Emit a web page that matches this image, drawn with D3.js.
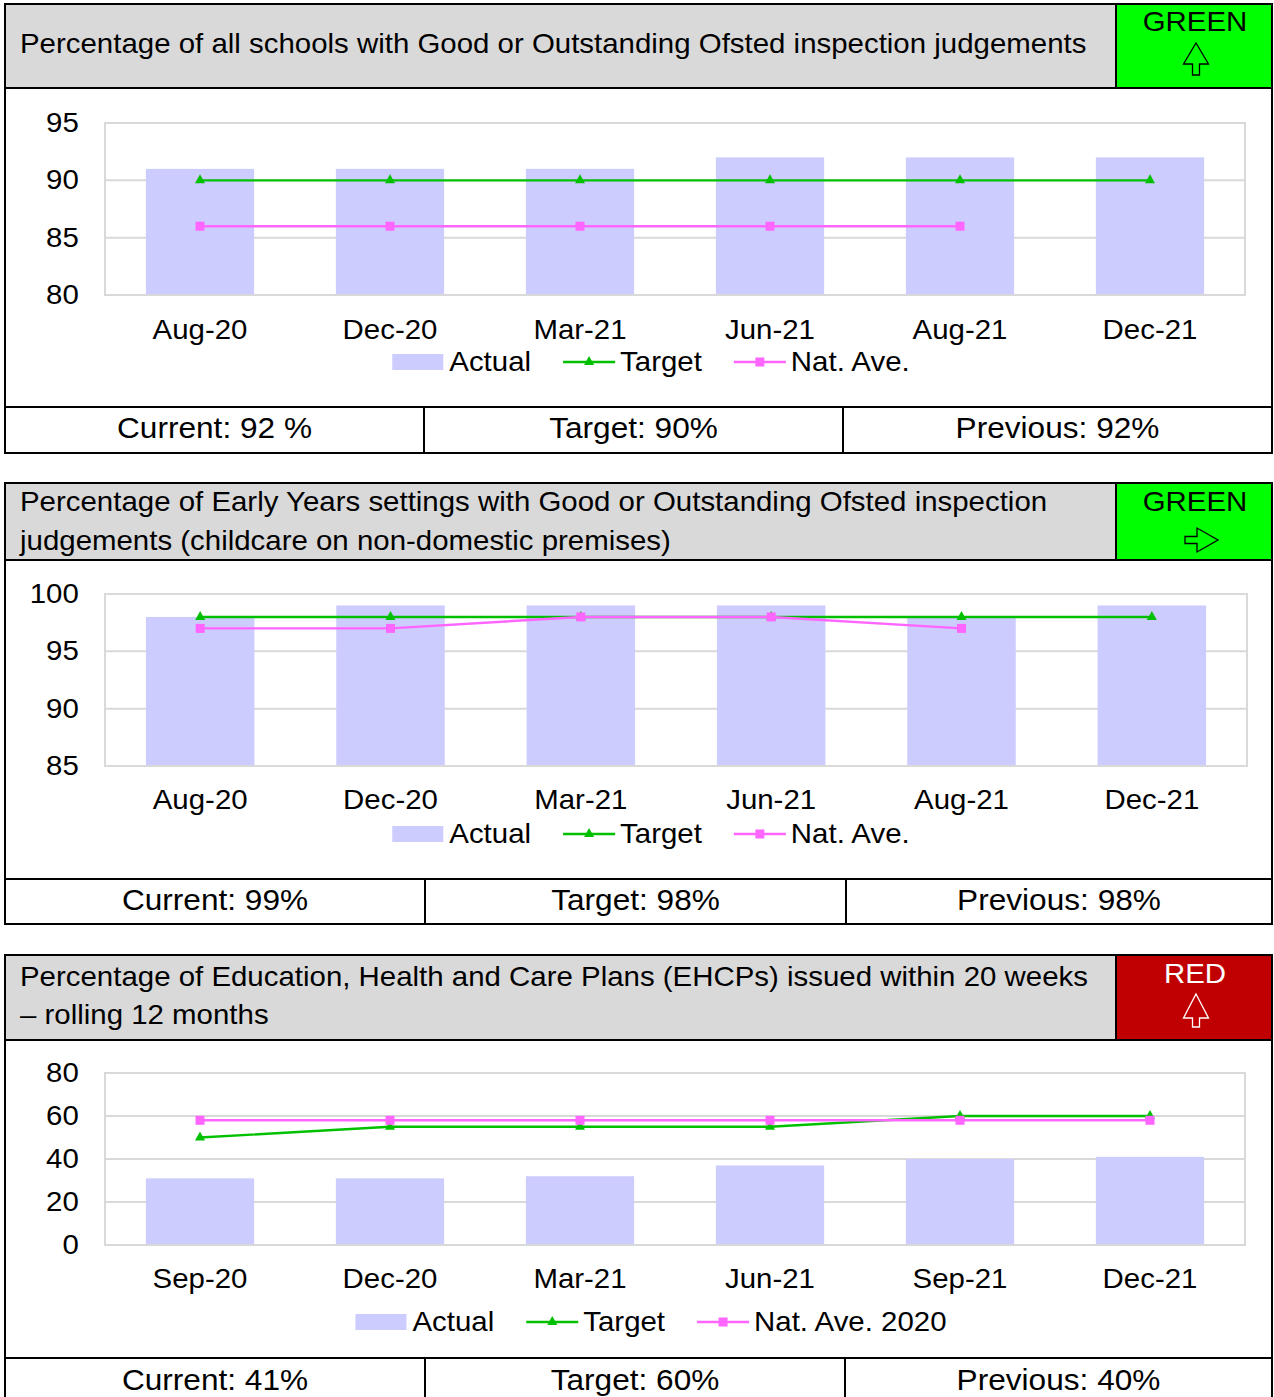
<!DOCTYPE html>
<html>
<head>
<meta charset="utf-8">
<script src="https://cdn.jsdelivr.net/npm/d3@7"></script>
<style>
  body { margin: 0; background: #fff; }
  svg { display: block; }
</style>
</head>
<body>
<script>
// ---- data ----
var cats1 = ["Aug-20", "Dec-20", "Mar-21", "Jun-21", "Aug-21", "Dec-21"];
var actual1 = [91, 91, 91, 92, 92, 92];
var target1 = [90, 90, 90, 90, 90, 90];
var natAve1 = [86, 86, 86, 86, 86];
var yTicks1 = [80, 85, 90, 95];

var cats2 = ["Aug-20", "Dec-20", "Mar-21", "Jun-21", "Aug-21", "Dec-21"];
var actual2 = [98, 99, 99, 99, 98, 99];
var target2 = [98, 98, 98, 98, 98, 98];
var natAve2 = [97, 97, 98, 98, 97];
var yTicks2 = [85, 90, 95, 100];

var cats3 = ["Sep-20", "Dec-20", "Mar-21", "Jun-21", "Sep-21", "Dec-21"];
var actual3 = [31, 31, 32, 37, 40, 41];
var target3 = [50, 55, 55, 55, 60, 60];
var natAve3 = [58, 58, 58, 58, 58, 58];
var yTicks3 = [0, 20, 40, 60, 80];

var title1 = ["Percentage of all schools with Good or Outstanding Ofsted inspection judgements"];
var title2 = ["Percentage of Early Years settings with Good or Outstanding Ofsted inspection",
              "judgements (childcare on non-domestic premises)"];
var title3 = ["Percentage of Education, Health and Care Plans (EHCPs) issued within 20 weeks",
              "\u2013 rolling 12 months"];
var footer1 = ["Current: 92 %", "Target: 90%", "Previous: 92%"];
var footer2 = ["Current: 99%", "Target: 98%", "Previous: 98%"];
var footer3 = ["Current: 41%", "Target: 60%", "Previous: 40%"];
var legend1 = ["Actual", "Target", "Nat. Ave."];
var legend2 = ["Actual", "Target", "Nat. Ave."];
var legend3 = ["Actual", "Target", "Nat. Ave. 2020"];

// ---- look ----
var W = 1274, H = 1397;
var SX = 1.09;   // source text is a bit wide
var FONT = "'Liberation Sans', Arial, sans-serif";
var FS = 27;
var barColor = "#ccccff", targetColor = "#00c000", natColor = "#ff66ff", gridColor = "#d9d9d9";

var panels = [
  {top: 4, head: 88, chartBottom: 407, bottom: 453, title: title1, titleY: [44],
   status: "GREEN", statusFill: "#00ff00", statusInk: "#000", statusY: 22, arrow: "up", arrowTip: 43, arrowBase: 64, arrowEnd: 75,
   cats: cats1, actual: actual1, target: target1, nat: natAve1, ticks: yTicks1, domain: [80, 95],
   plot: [105, 1245, 123, 295], labelY: 330, legendY: 362, legend: legend1,
   footer: footer1, divs: [424, 843], footY: 428},
  {top: 483, head: 560, chartBottom: 879, bottom: 924, title: title2, titleY: [502, 541],
   status: "GREEN", statusFill: "#00ff00", statusInk: "#000", statusY: 502, arrow: "right", arrowTip: 540,
   cats: cats2, actual: actual2, target: target2, nat: natAve2, ticks: yTicks2, domain: [85, 100],
   plot: [105, 1247, 594, 766], labelY: 800, legendY: 834, legend: legend2,
   footer: footer2, divs: [425, 846], footY: 900},
  {top: 955, head: 1040, chartBottom: 1358, bottom: 1404, title: title3, titleY: [977, 1015],
   status: "RED", statusFill: "#c00000", statusInk: "#fff", statusY: 974, arrow: "up", arrowTip: 994, arrowBase: 1018, arrowEnd: 1027,
   cats: cats3, actual: actual3, target: target3, nat: natAve3, ticks: yTicks3, domain: [0, 80],
   plot: [105, 1245, 1073, 1245], labelY: 1279, legendY: 1322, legend: legend3,
   footer: footer3, divs: [425, 845], footY: 1380}
];

var svg = d3.select("body").append("svg")
  .attr("width", W)
  .attr("height", H)
  .style("font-family", FONT);

function addText(g, x, y, str, size, anchor, fill) {
  return g.append("text")
    .attr("transform", `translate(${x},${y}) scale(${SX},1)`)
    .attr("dy", "0.35em")
    .attr("text-anchor", anchor)
    .attr("font-size", size)
    .attr("fill", fill || "#000")
    .text(str);
}

function drawPanel(p) {
  var g = svg.append("g");
  var L = 5, R = 1272, SB = 1116;

  // header
  g.append("rect").attr("x", L).attr("y", p.top).attr("width", SB - L).attr("height", p.head - p.top).attr("fill", "#d9d9d9");
  g.append("rect").attr("x", SB).attr("y", p.top).attr("width", R - SB).attr("height", p.head - p.top).attr("fill", p.statusFill);
  p.title.forEach(function(t, i) {
    addText(g, 20, p.titleY[i], t, FS, "start");
  });
  addText(g, 1195, p.statusY, p.status, 27, "middle", p.statusInk);

  var pts;
  if (p.arrow == "up") {
    var c = 1196, t = p.arrowTip, b = p.arrowBase, e = p.arrowEnd;
    pts = [[c, t], [c + 12.5, b], [c + 3.5, b], [c + 3.5, e], [c - 3.5, e], [c - 3.5, b], [c - 12.5, b]];
  } else {
    var tx = 1218, ty = p.arrowTip;
    pts = [[tx, ty], [tx - 21, ty - 12], [tx - 21, ty - 3.5], [tx - 33, ty - 3.5], [tx - 33, ty + 3.5], [tx - 21, ty + 3.5], [tx - 21, ty + 12]];
  }
  g.append("path")
    .attr("d", d3.line()(pts) + "Z")
    .attr("fill", "none")
    .attr("stroke", p.statusInk)
    .attr("stroke-width", 1.3)
    .attr("stroke-linejoin", "miter");

  // chart
  var x = d3.scaleBand().domain(p.cats).range([p.plot[0], p.plot[1]]).paddingInner(0.43).paddingOuter(0.215);
  var y = d3.scaleLinear().domain(p.domain).range([p.plot[3], p.plot[2]]);
  var cx = function(d) { return x(d) + x.bandwidth() / 2; };

  g.append("g").selectAll("line")
    .data(p.ticks)
    .enter().append("line")
    .attr("x1", p.plot[0]).attr("x2", p.plot[1])
    .attr("y1", function(d) { return y(d); }).attr("y2", function(d) { return y(d); })
    .attr("stroke", gridColor).attr("stroke-width", 2);

  g.append("g").selectAll("rect")
    .data(p.actual)
    .enter().append("rect")
    .attr("x", function(d, i) { return x(p.cats[i]); })
    .attr("y", function(d) { return y(d); })
    .attr("width", x.bandwidth())
    .attr("height", function(d) { return y(p.domain[0]) - y(d); })
    .attr("fill", barColor);

  var line = d3.line()
    .x(function(d, i) { return cx(p.cats[i]); })
    .y(function(d) { return y(d); });

  g.append("path").datum(p.target)
    .attr("d", line).attr("fill", "none").attr("stroke", targetColor).attr("stroke-width", 2.4);
  g.append("g").selectAll("path")
    .data(p.target)
    .enter().append("path")
    .attr("transform", function(d, i) { return `translate(${cx(p.cats[i])},${y(d)})`; })
    .attr("d", "M0,-6L5,3L-5,3Z")
    .attr("fill", targetColor);

  g.append("path").datum(p.nat)
    .attr("d", line).attr("fill", "none").attr("stroke", natColor).attr("stroke-width", 2.4);
  g.append("g").selectAll("rect")
    .data(p.nat)
    .enter().append("rect")
    .attr("x", function(d, i) { return cx(p.cats[i]) - 4.5; })
    .attr("y", function(d) { return y(d) - 4.5; })
    .attr("width", 9).attr("height", 9)
    .attr("fill", natColor);

  g.append("rect")
    .attr("x", p.plot[0]).attr("y", p.plot[2])
    .attr("width", p.plot[1] - p.plot[0]).attr("height", p.plot[3] - p.plot[2])
    .attr("fill", "none").attr("stroke", gridColor).attr("stroke-width", 2);

  var yAxis = g.append("g")
    .attr("transform", `translate(${p.plot[0]},0)`)
    .call(d3.axisLeft(y).tickValues(p.ticks).tickSize(0).tickPadding(24));
  yAxis.select(".domain").remove();
  yAxis.selectAll("text")
    .attr("transform", `scale(${SX},1)`)
    .attr("font-family", FONT).attr("font-size", FS).attr("fill", "#000");

  var xAxis = g.append("g")
    .attr("transform", `translate(0,${p.labelY})`)
    .call(d3.axisBottom(x).tickSize(0));
  xAxis.select(".domain").remove();
  xAxis.selectAll("text")
    .attr("y", 0).attr("dy", "0.35em")
    .attr("transform", `scale(${SX},1)`)
    .attr("font-family", FONT).attr("font-size", FS).attr("fill", "#000");

  // legend
  var lg = g.append("g");
  var ly = p.legendY;
  var items = [];
  var xx = 0;
  p.legend.forEach(function(name, i) {
    var key = 51;
    var tmp = addText(lg, 0, -100, name, FS, "start");
    var tw = tmp.node().getComputedTextLength() * SX;
    tmp.remove();
    items.push({name: name, kind: i, x: xx, tw: tw});
    xx += key + 6 + tw + 32;
  });
  var total = xx - 32;
  var start = 651 - total / 2;
  items.forEach(function(it) {
    var x0 = start + it.x;
    if (it.kind == 0) {
      lg.append("rect").attr("x", x0).attr("y", ly - 8).attr("width", 51).attr("height", 16).attr("fill", barColor);
    } else {
      var col = it.kind == 1 ? targetColor : natColor;
      lg.append("line").attr("x1", x0).attr("x2", x0 + 52).attr("y1", ly).attr("y2", ly)
        .attr("stroke", col).attr("stroke-width", 2.4);
      if (it.kind == 1) {
        lg.append("path").attr("transform", `translate(${x0 + 26},${ly})`).attr("d", "M0,-6L5,3L-5,3Z").attr("fill", col);
      } else {
        lg.append("rect").attr("x", x0 + 26 - 4.5).attr("y", ly - 4.5).attr("width", 9).attr("height", 9).attr("fill", col);
      }
    }
    addText(lg, x0 + 57, ly, it.name, FS, "start");
  });

  // footer
  var edges = [L, p.divs[0], p.divs[1], R];
  p.footer.forEach(function(t, i) {
    addText(g, (edges[i] + edges[i + 1]) / 2, p.footY, t, 29, "middle");
  });

  // borders
  var bw = 2;
  g.append("rect").attr("x", L).attr("y", p.top).attr("width", R - L).attr("height", p.bottom - p.top)
    .attr("fill", "none").attr("stroke", "#000").attr("stroke-width", bw);
  g.append("line").attr("x1", L).attr("x2", R).attr("y1", p.head).attr("y2", p.head).attr("stroke", "#000").attr("stroke-width", bw);
  g.append("line").attr("x1", SB).attr("x2", SB).attr("y1", p.top).attr("y2", p.head).attr("stroke", "#000").attr("stroke-width", bw);
  g.append("line").attr("x1", L).attr("x2", R).attr("y1", p.chartBottom).attr("y2", p.chartBottom).attr("stroke", "#000").attr("stroke-width", bw);
  p.divs.forEach(function(d) {
    g.append("line").attr("x1", d).attr("x2", d).attr("y1", p.chartBottom).attr("y2", p.bottom).attr("stroke", "#000").attr("stroke-width", bw);
  });
}

panels.forEach(drawPanel);
</script>
</body>
</html>
